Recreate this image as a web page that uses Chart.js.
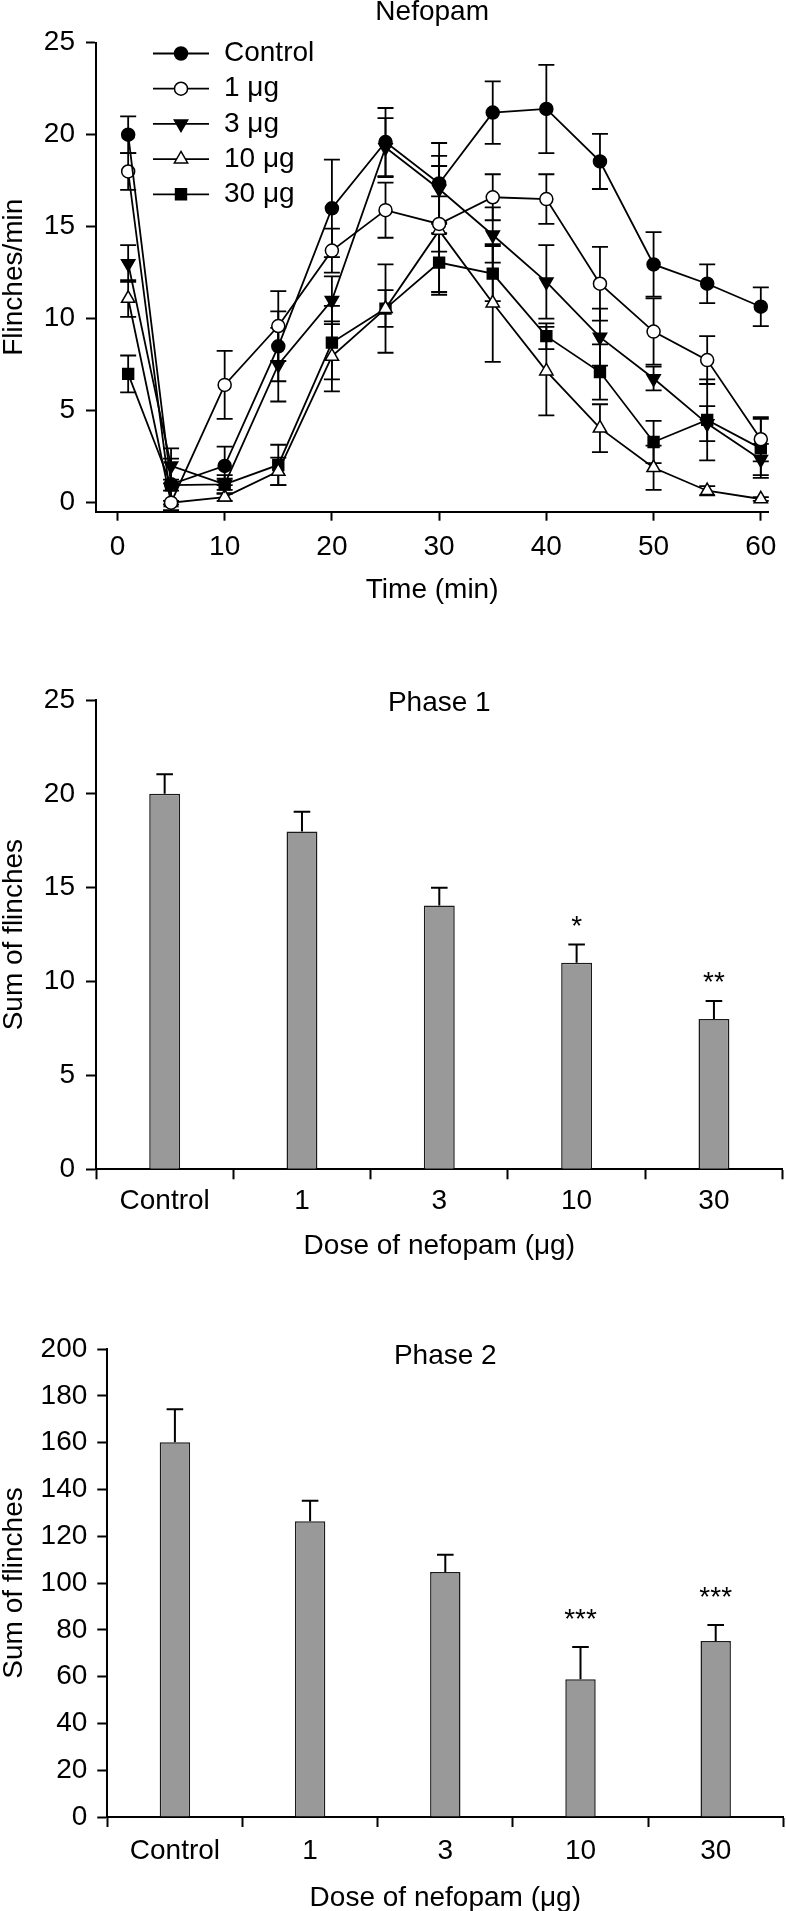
<!DOCTYPE html>
<html>
<head>
<meta charset="utf-8">
<script src="https://cdn.jsdelivr.net/npm/chart.js@4.4.0/dist/chart.umd.min.js"></script>
<style>
body { margin: 0; background: #fff; }
canvas { position: absolute; left: 0; }
</style>
</head>
<body>
<canvas id="timeChart" width="786" height="640" style="top:0"></canvas>
<canvas id="phase1Chart" width="786" height="640" style="top:640px"></canvas>
<canvas id="phase2Chart" width="786" height="631" style="top:1280px"></canvas>
<script>
// time course (flinches/min), mean and SEM
const times = [1, 5, 10, 15, 20, 25, 30, 35, 40, 45, 50, 55, 60];
const control = [20.0, 1.0, 2.0, 8.5, 16.0, 19.6, 17.35, 21.2, 21.4, 18.55, 12.95, 11.9, 10.65];
const controlErr = [1.0, 1.4, 1.05, 1.9, 2.65, 1.85, 2.2, 1.7, 2.4, 1.5, 1.75, 1.05, 1.05];
const dose1 = [18.0, 0.0, 6.4, 9.6, 13.7, 15.9, 15.15, 16.6, 16.5, 11.9, 9.3, 7.75, 3.45];
const dose1Err = [1.0, 0.0, 1.85, 1.9, 1.2, 1.5, 1.5, 1.25, 1.35, 2.0, 1.8, 1.3, 1.2];
const dose3 = [13.0, 2.0, 1.0, 7.5, 11.0, 19.3, 17.05, 14.55, 12.0, 9.0, 6.75, 4.3, 2.35];
const dose3Err = [1.0, 0.95, 0.5, 2.0, 1.3, 1.6, 1.8, 1.5, 2.0, 1.55, 0.65, 0.95, 0.85];
const dose10 = [11.1, 0.0, 0.3, 1.7, 7.95, 10.55, 14.8, 10.85, 7.15, 4.05, 1.9, 0.65, 0.2];
const dose10Err = [1.0, 0.1, 0.2, 0.75, 1.9, 2.4, 3.5, 3.2, 2.4, 1.3, 1.2, 0.25, 0.1];
const dose30 = [7.0, 0.95, 1.0, 2.05, 8.7, 10.55, 13.05, 12.45, 9.05, 7.1, 3.3, 4.5, 2.95];
const dose30Err = [1.0, 0.3, 0.3, 1.1, 2.0, 1.0, 1.6, 1.5, 0.7, 1.5, 1.15, 2.2, 1.6];
const timeXTicks = [0, 10, 20, 30, 40, 50, 60];
const timeYTicks = [0, 5, 10, 15, 20, 25];

// summed flinches per phase
const doses = ['Control', '1', '3', '10', '30'];
const phase1 = [20.0, 18.0, 14.05, 11.0, 8.0];
const phase1Err = [1.05, 1.05, 0.95, 0.97, 0.97];
const phase1Sig = ['', '', '', '*', '**'];
const phase1Ticks = [0, 5, 10, 15, 20, 25];
const phase2 = [160.2, 126.4, 104.7, 58.9, 75.2];
const phase2Err = [14.0, 8.7, 7.4, 13.7, 6.9];
const phase2Sig = ['', '', '', '***', '***'];
const phase2Ticks = [0, 20, 40, 60, 80, 100, 120, 140, 160, 180, 200];

const FONT = '"Liberation Sans", Arial, Helvetica, sans-serif';
const SIZE = 28;

function yAxis(ticks, min, max, width, title, pad) {
    return {
        type: 'linear', min: min, max: max,
        afterBuildTicks: s => { s.ticks = ticks.map(v => ({ value: v })); },
        afterFit: s => { s.width = width; },
        border: { display: true, color: '#000', width: 2 },
        grid: { drawOnChartArea: false, drawTicks: true, tickLength: 10, tickWidth: 2, tickColor: '#000' },
        ticks: { color: '#000', font: { family: FONT, size: SIZE }, padding: pad },
        title: { display: true, text: title, color: '#000', font: { family: FONT, size: SIZE, lineHeight: 1 }, padding: { top: 0, bottom: 0 } }
    };
}

function xAxisStyle(height, tickLen, pad, title, titlePad) {
    return {
        afterFit: s => { s.height = height; },
        border: { display: true, color: '#000', width: 2 },
        grid: { drawOnChartArea: false, drawTicks: true, tickLength: tickLen, tickWidth: 2, tickColor: '#000' },
        ticks: { color: '#000', font: { family: FONT, size: SIZE }, padding: pad, maxRotation: 0, autoSkip: false },
        title: { display: true, text: title, color: '#000', font: { family: FONT, size: SIZE, lineHeight: 1 }, padding: { top: 0, bottom: titlePad } }
    };
}

// title text drawn over the chart area
function panelTitle(text, dy) {
    return {
        id: 'panelTitle',
        afterDraw(chart) {
            const { ctx, chartArea } = chart;
            ctx.save();
            ctx.fillStyle = '#000';
            ctx.font = SIZE + 'px ' + FONT;
            ctx.textAlign = 'center';
            ctx.textBaseline = 'middle';
            ctx.fillText(text, (chartArea.left + chartArea.right) / 2, chartArea.top + dy);
            ctx.restore();
        }
    };
}

// ---------- time course ----------
const lineErrorBars = {
    id: 'lineErrorBars',
    beforeDatasetsDraw(chart) {
        const { ctx, scales: { x, y } } = chart;
        ctx.save();
        ctx.strokeStyle = '#000';
        ctx.lineWidth = 1.8;
        chart.data.datasets.forEach(ds => {
            ds.data.forEach((p, i) => {
                const e = ds.errors[i];
                if (!e) return;
                const px = x.getPixelForValue(p.x);
                const top = y.getPixelForValue(p.y + e);
                const bot = y.getPixelForValue(p.y - e);
                ctx.beginPath();
                ctx.moveTo(px, top); ctx.lineTo(px, bot);
                ctx.moveTo(px - 8, top); ctx.lineTo(px + 8, top);
                ctx.moveTo(px - 8, bot); ctx.lineTo(px + 8, bot);
                ctx.stroke();
            });
        });
        ctx.restore();
    }
};

const lineLegend = {
    id: 'lineLegend',
    afterDraw(chart) {
        const ctx = chart.ctx;
        ctx.save();
        chart.data.datasets.forEach((ds, i) => {
            const y = 53.5 + i * 35.2;
            ctx.strokeStyle = '#000';
            ctx.lineWidth = 1.8;
            ctx.beginPath();
            ctx.moveTo(153, y); ctx.lineTo(209, y);
            ctx.stroke();
            ctx.fillStyle = ds.pointBackgroundColor;
            ctx.lineWidth = ds.pointBorderWidth;
            Chart.helpers.drawPoint(ctx, {
                pointStyle: ds.pointStyle, rotation: ds.pointRotation,
                radius: ds.pointRadius, borderWidth: ds.pointBorderWidth
            }, 181, y);
            ctx.fillStyle = '#000';
            ctx.font = SIZE + 'px ' + FONT;
            ctx.textAlign = 'left';
            ctx.textBaseline = 'middle';
            ctx.fillText(ds.label, 224, y);
        });
        ctx.restore();
    }
};

function series(label, values, errors, style, rotation, radius, fill) {
    return {
        label: label,
        data: times.map((t, i) => ({ x: t, y: values[i] })),
        errors: errors,
        borderColor: '#000',
        borderWidth: 1.8,
        pointStyle: style,
        pointRotation: rotation,
        pointRadius: radius,
        pointHoverRadius: radius,
        pointBorderWidth: 1.5,
        pointBorderColor: '#000',
        pointBackgroundColor: fill,
        tension: 0,
        clip: false
    };
}

new Chart(document.getElementById('timeChart'), {
    type: 'line',
    data: {
        datasets: [
            series('Control', control, controlErr, 'circle', 0, 6.5, '#000'),
            series('1 μg', dose1, dose1Err, 'circle', 0, 6.5, '#fff'),
            series('3 μg', dose3, dose3Err, 'triangle', 180, 7.7, '#000'),
            series('10 μg', dose10, dose10Err, 'triangle', 0, 7.7, '#fff'),
            series('30 μg', dose30, dose30Err, 'rect', 0, 7.7, '#000')
        ]
    },
    options: {
        responsive: false,
        animation: false,
        layout: { padding: { top: 42.7, right: 11.4, left: 0, bottom: 0 }, autoPadding: false },
        plugins: { legend: { display: false }, tooltip: { enabled: false } },
        scales: {
            x: Object.assign({
                type: 'linear', min: -2, max: 60.7,
                afterBuildTicks: s => { s.ticks = timeXTicks.map(v => ({ value: v })); }
            }, xAxisStyle(128.3, 9, 9.5, 'Time (min)', 36)),
            y: yAxis(timeYTicks, -0.49, 25, 96, 'Flinches/min', 11)
        }
    },
    plugins: [lineErrorBars, lineLegend, panelTitle('Nefopam', -30.5)]
});

// ---------- phase bar charts ----------
function barExtras(errors, sig, gap) {
    return {
        id: 'barExtras',
        afterDatasetsDraw(chart) {
            const { ctx, scales: { y } } = chart;
            const meta = chart.getDatasetMeta(0);
            const vals = chart.data.datasets[0].data;
            ctx.save();
            ctx.strokeStyle = '#000';
            ctx.lineWidth = 2;
            meta.data.forEach((bar, i) => {
                const top = y.getPixelForValue(vals[i] + errors[i]);
                const base = y.getPixelForValue(vals[i]);
                ctx.beginPath();
                ctx.moveTo(bar.x, base); ctx.lineTo(bar.x, top);
                ctx.moveTo(bar.x - 8.3, top); ctx.lineTo(bar.x + 8.3, top);
                ctx.stroke();
                if (sig[i]) {
                    ctx.fillStyle = '#000';
                    ctx.font = SIZE + 'px ' + FONT;
                    ctx.textAlign = 'center';
                    ctx.textBaseline = 'alphabetic';
                    ctx.fillText(sig[i], bar.x, top - gap);
                }
            });
            ctx.restore();
        }
    };
}

function barChart(id, values, errors, sig, gap, ticks, max, dims, title, titleDy) {
    return new Chart(document.getElementById(id), {
        type: 'bar',
        data: {
            labels: doses,
            datasets: [{
                data: values,
                backgroundColor: '#999999',
                borderColor: '#1a1a1a',
                borderWidth: 1.5,
                borderSkipped: 'bottom',
                categoryPercentage: 1,
                barPercentage: 0.225
            }]
        },
        options: {
            responsive: false,
            animation: false,
            layout: { padding: { top: dims.top, right: dims.right, left: 0, bottom: 0 }, autoPadding: false },
            plugins: { legend: { display: false }, tooltip: { enabled: false } },
            scales: {
                x: Object.assign({ type: 'category', offset: true },
                    xAxisStyle(dims.xh, 10, dims.xpad, 'Dose of nefopam (μg)', dims.tpad)),
                y: yAxis(ticks, 0, max, dims.yw, 'Sum of flinches', dims.ypad)
            }
        },
        plugins: [barExtras(errors, sig, gap), panelTitle(title, titleDy)]
    });
}

const p1 = barChart('phase1Chart', phase1, phase1Err, phase1Sig, 10, phase1Ticks, 25,
    { top: 60, right: 3.4, xh: 110.7, xpad: 5.6, tpad: 19.3, yw: 96, ypad: 11 }, 'Phase 1', 3.3);
p1.options.scales.x.grid.offset = true;
p1.update();

const p2 = barChart('phase2Chart', phase2, phase2Err, phase2Sig, 19, phase2Ticks, 200,
    { top: 69, right: 2.7, xh: 94, xpad: 7.9, tpad: -1, yw: 107.3, ypad: 10 }, 'Phase 2', 7.7);
p2.options.scales.x.grid.offset = true;
p2.update();
</script>
</body>
</html>
